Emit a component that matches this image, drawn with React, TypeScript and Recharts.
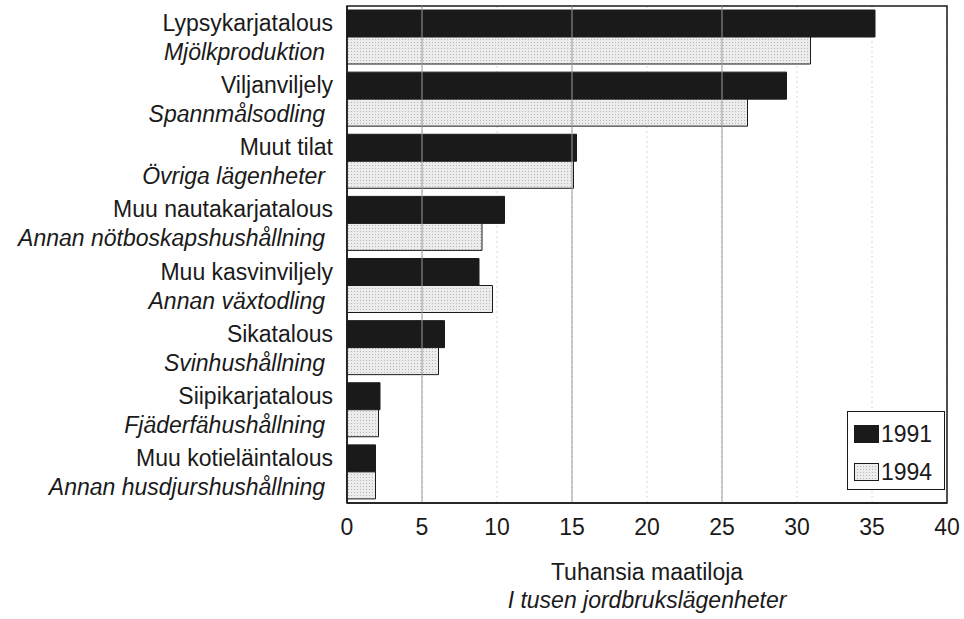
import React from 'react';
import {
  BarChart,
  Bar,
  XAxis,
  YAxis,
  CartesianGrid,
  ReferenceLine,
  ReferenceArea,
  Legend,
  Label,
} from 'recharts';

const CATEGORIES_FI = [
  'Lypsykarjatalous',
  'Viljanviljely',
  'Muut tilat',
  'Muu nautakarjatalous',
  'Muu kasvinviljely',
  'Sikatalous',
  'Siipikarjatalous',
  'Muu kotieläintalous',
];

const CATEGORIES_SV = [
  'Mjölkproduktion',
  'Spannmålsodling',
  'Övriga lägenheter',
  'Annan nötboskapshushållning',
  'Annan växtodling',
  'Svinhushållning',
  'Fjäderfähushållning',
  'Annan husdjurshushållning',
];

const VALUES_1991 = [35.2, 29.3, 15.3, 10.5, 8.8, 6.5, 2.2, 1.9];
const VALUES_1994 = [30.9, 26.7, 15.1, 9.0, 9.7, 6.1, 2.1, 1.9];

const X_TICKS = [0, 5, 10, 15, 20, 25, 30, 35, 40];
const SOLID_GRID = [5, 15, 25];

const FONT = '"Liberation Sans", Arial, sans-serif';
const INK = '#1a1a1a';

const data = CATEGORIES_FI.map((fi, i) => ({
  fi,
  sv: CATEGORIES_SV[i],
  y1991: VALUES_1991[i],
  y1994: VALUES_1994[i],
}));

function CategoryTick(props: any) {
  const { y, payload } = props;
  const idx = CATEGORIES_FI.indexOf(payload.value);
  return (
    <g fontFamily={FONT} fontSize={23} fill={INK}>
      <text x={333} y={y - 6} textAnchor="end">
        {payload.value}
      </text>
      <text x={325} y={y + 23} textAnchor="end" fontStyle="italic">
        {CATEGORIES_SV[idx]}
      </text>
    </g>
  );
}

function AxisTitle(props: any) {
  const { viewBox } = props;
  const cx = viewBox.x + viewBox.width / 2;
  return (
    <g fontFamily={FONT} fontSize={23} fill={INK} textAnchor="middle">
      <text x={cx} y={580}>Tuhansia maatiloja</text>
      <text x={cx} y={608} fontStyle="italic">
        I tusen jordbrukslägenheter
      </text>
    </g>
  );
}

function LegendBox() {
  const row = (label: string, fill: string) => (
    <div style={{ display: 'flex', alignItems: 'center', height: 38 }}>
      <svg width={26} height={18} style={{ marginRight: 1 }}>
        <rect x={0.5} y={0.5} width={24} height={17} fill={fill} stroke={INK} />
      </svg>
      <span style={{ fontFamily: FONT, fontSize: 23, color: INK, lineHeight: '20px' }}>
        {label}
      </span>
    </div>
  );
  return (
    <div
      style={{
        border: `1.5px solid ${INK}`,
        width: 98,
        height: 79,
        boxSizing: 'border-box',
        padding: '3px 0 0 6px',
        background: '#fff',
      }}
    >
      {row('1991', INK)}
      {row('1994', 'url(#dots)')}
    </div>
  );
}

export default function App() {
  return (
    <div style={{ position: 'absolute', left: 0, top: 0, background: '#fff' }}>
      <BarChart
        width={964}
        height={619}
        data={data}
        layout="vertical"
        margin={{ top: 6, right: 17, bottom: 0, left: 0 }}
        barCategoryGap={4}
        barGap={0}
      >
        <defs>
          <pattern id="dots" width="3" height="3" patternUnits="userSpaceOnUse">
            <rect width="3" height="3" fill="#ececec" />
            <rect width="1" height="1" fill="#b8b8b8" />
          </pattern>
        </defs>
        <CartesianGrid
          horizontal={false}
          stroke="#d8d8d8"
          strokeDasharray="2 3"
        />
        {SOLID_GRID.map((v) => (
          <ReferenceLine key={v} x={v} stroke="#9a9a9a" strokeWidth={1} />
        ))}
        <XAxis
          type="number"
          domain={[0, 40]}
          ticks={X_TICKS}
          height={116}
          tickLine={false}
          tickMargin={10}
          axisLine={{ stroke: INK, strokeWidth: 1.5 }}
          tick={{ fontSize: 23, fill: INK, fontFamily: FONT }}
        >
          <Label content={<AxisTitle />} />
        </XAxis>
        <YAxis
          type="category"
          dataKey="fi"
          width={347}
          tickLine={false}
          axisLine={{ stroke: INK, strokeWidth: 1.5 }}
          tick={<CategoryTick />}
          interval={0}
        />
        <Bar
          dataKey="y1991"
          fill={INK}
          stroke={INK}
          strokeWidth={1}
          isAnimationActive={false}
        />
        <Bar
          dataKey="y1994"
          fill="url(#dots)"
          stroke={INK}
          strokeWidth={1}
          isAnimationActive={false}
        />
        <ReferenceArea
          x1={0}
          x2={40}
          fill="none"
          stroke={INK}
          strokeWidth={1.5}
          fillOpacity={0}
        />
        <Legend
          layout="horizontal"
          verticalAlign="middle"
          align="center"
          content={<LegendBox />}
          wrapperStyle={{ position: 'absolute', left: 847, top: 411, width: 98 }}
        />
      </BarChart>
    </div>
  );
}
